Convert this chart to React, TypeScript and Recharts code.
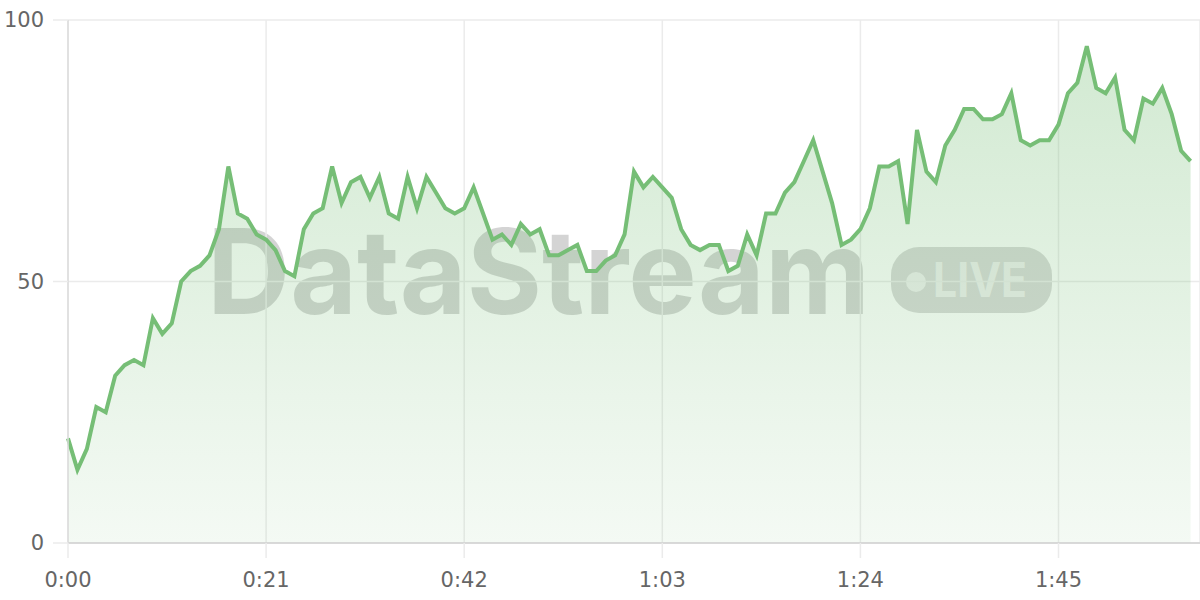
import React from 'react';
import { AreaChart, Area, XAxis, YAxis, CartesianGrid } from 'recharts';

// one reading per second, starting at 0:00
const values: number[] = [
  20, 14, 18, 26, 25, 32, 34, 35, 34, 43,
  40, 42, 50, 52, 53, 55, 60, 72, 63, 62,
  59, 58, 56, 52, 51, 60, 63, 64, 72, 65,
  69, 70, 66, 70, 63, 62, 70, 64, 70, 67,
  64, 63, 64, 68, 63, 58, 59, 57, 61, 59,
  60, 55, 55, 56, 57, 52, 52, 54, 55, 59,
  71, 68, 70, 68, 66, 60, 57, 56, 57, 57,
  52, 53, 59, 55, 63, 63, 67, 69, 73, 77,
  71, 65, 57, 58, 60, 64, 72, 72, 73, 61,
  79, 71, 69, 76, 79, 83, 83, 81, 81, 82,
  86, 77, 76, 77, 77, 80, 86, 88, 95, 87,
  86, 89, 79, 77, 85, 84, 87, 82, 75, 73,
];

const xTicks: number[] = [0, 21, 42, 63, 84, 105];
const yTicks: number[] = [0, 50, 100];
const watermarkText = 'DataStream';
const liveText = 'LIVE';

const data = values.map((v, i) => ({ t: i, v }));

const fmtTime = (s: number) => {
  const m = Math.floor(s / 60);
  const ss = s % 60;
  return `${m}:${ss < 10 ? '0' : ''}${ss}`;
};

const LINE = '#76be76';
const GRID = '#ebebeb';
const TICK_FONT = { fill: '#666', fontSize: 21, fontFamily: '"DejaVu Sans", sans-serif' };

export default function App() {
  return (
    <div style={{ position: 'absolute', left: 0, top: 0, width: 1200, height: 600, background: '#fff', overflow: 'hidden' }}>
      <svg width={1200} height={600} style={{ position: 'absolute', left: 0, top: 0, zIndex: 0 }}>
        <text
          x={207}
          y={314}
          fontFamily="Inter, sans-serif"
          fontWeight={700}
          fontSize={118}
          textLength={663}
          lengthAdjust="spacingAndGlyphs"
          fill="rgba(0,0,0,0.17)"
        >
          {watermarkText}
        </text>
        <rect x={891} y={247} width={161} height={66} rx={28} fill="rgba(0,0,0,0.15)" />
        <circle cx={916} cy={282} r={10} fill="rgba(255,255,255,0.6)" />
        <text
          x={933}
          y={297}
          fontFamily="Inter, sans-serif"
          fontWeight={700}
          fontSize={48}
          textLength={94}
          lengthAdjust="spacingAndGlyphs"
          fill="rgba(255,255,255,0.6)"
        >
          {liveText}
        </text>
      </svg>
      <div style={{ position: 'absolute', left: 0, top: 0, zIndex: 1 }}>
        <AreaChart width={1200} height={600} data={data} margin={{ top: 20, right: 0, bottom: 0, left: 0 }}>
          <defs>
            <linearGradient id="areaFill" x1="0" y1="0" x2="0" y2="1">
              <stop offset="0%" stopColor={LINE} stopOpacity={0.33} />
              <stop offset="100%" stopColor={LINE} stopOpacity={0.08} />
            </linearGradient>
          </defs>
          <CartesianGrid stroke={GRID} strokeWidth={1.5} />
          <XAxis
            dataKey="t"
            type="number"
            domain={[0, 120]}
            ticks={xTicks}
            tickFormatter={fmtTime}
            height={57}
            tickSize={15}
            tickMargin={14}
            axisLine={{ stroke: '#d2d2d2', strokeWidth: 1.5 }}
            tickLine={{ stroke: GRID, strokeWidth: 1.5 }}
            tick={TICK_FONT}
            interval={0}
          />
          <YAxis
            type="number"
            domain={[0, 100]}
            ticks={yTicks}
            width={68}
            tickSize={15}
            tickMargin={9}
            axisLine={{ stroke: '#dcdcdc', strokeWidth: 1.5 }}
            tickLine={{ stroke: GRID, strokeWidth: 1.5 }}
            tick={TICK_FONT}
            interval={0}
          />
          <Area
            type="linear"
            dataKey="v"
            stroke={LINE}
            strokeWidth={4}
            strokeLinejoin="miter"
            fill="url(#areaFill)"
            fillOpacity={1}
            isAnimationActive={false}
            dot={false}
            activeDot={false}
          />
        </AreaChart>
      </div>
    </div>
  );
}
